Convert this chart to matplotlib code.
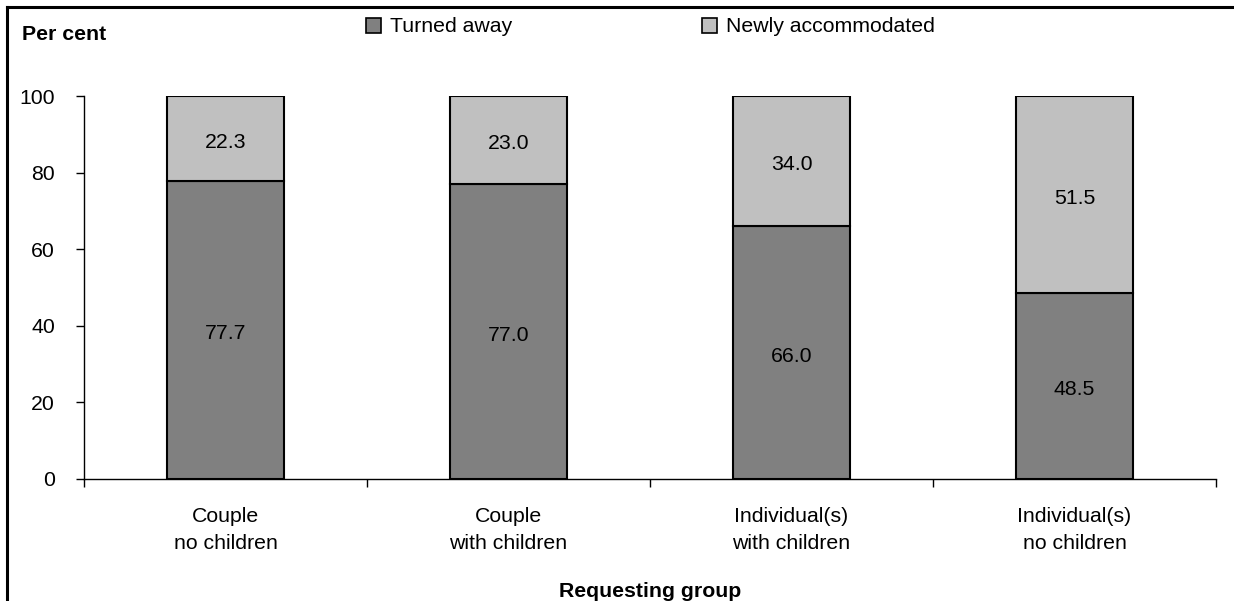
import matplotlib
matplotlib.use("Agg")
import matplotlib.pyplot as plt
from matplotlib.patches import Patch
from matplotlib.lines import Line2D
import numpy as np

groups = ["Couple\nno children", "Couple\nwith children",
          "Individual(s)\nwith children", "Individual(s)\nno children"]
turned_away = [77.7, 77.0, 66.0, 48.5]
newly_accommodated = [22.3, 23.0, 34.0, 51.5]
yticks = [0, 20, 40, 60, 80, 100]

dark = "#808080"
light = "#C0C0C0"

plt.rcParams["font.family"] = ["Liberation Sans", "DejaVu Sans"]
plt.rcParams["font.size"] = 15.3

W, H = 1234, 601
fig = plt.figure(figsize=(W / 100, H / 100), dpi=100)
# axes box in pixels: x 84..1216, y 96..479
ax = fig.add_axes([84 / W, 1 - 479 / H, (1216 - 84) / W, (479 - 96) / H])

x = np.arange(len(groups))
width = 0.41
ax.bar(x, turned_away, width, color=dark, edgecolor="black", linewidth=1.5)
ax.bar(x, newly_accommodated, width, bottom=turned_away, color=light,
       edgecolor="black", linewidth=1.5)

for i in range(len(groups)):
    ax.annotate(f"{turned_away[i]:.1f}", (x[i], turned_away[i] / 2),
                xytext=(0, -2.5), textcoords="offset points", ha="center", va="center")
    ax.annotate(f"{newly_accommodated[i]:.1f}",
                (x[i], turned_away[i] + newly_accommodated[i] / 2),
                xytext=(0, -2.5), textcoords="offset points", ha="center", va="center")

ax.set_xlim(-0.5, len(groups) - 0.5)
ax.set_ylim(0, 100)
ax.set_yticks(yticks)
ax.spines["top"].set_visible(False)
ax.spines["right"].set_visible(False)
ax.spines["left"].set_linewidth(1)
ax.spines["bottom"].set_linewidth(1)
ax.tick_params(axis="y", direction="out", length=6, width=1, pad=15)

# boundary ticks below the axis, labels at the category centres
ax.set_xticks(np.arange(-0.5, len(groups), 1.0))
ax.set_xticklabels([])
ax.tick_params(axis="x", which="major", direction="out", length=6, width=1)
ax.set_xticks(x, minor=True)
ax.set_xticklabels(groups, minor=True, linespacing=1.55)
ax.tick_params(axis="x", which="minor", length=0, pad=20)

ax.set_xlabel("Requesting group", fontweight="bold", labelpad=21)
fig.text(22 / W, 1 - 34 / H, "Per cent", fontweight="bold", ha="left", va="center")

handles = [Patch(facecolor=dark, edgecolor="black", linewidth=1.2),
           Patch(facecolor=light, edgecolor="black", linewidth=1.2)]
fig.legend(handles, ["Turned away", "Newly accommodated"], ncol=2,
           loc="center left", bbox_to_anchor=(366 / W, 1 - 27 / H),
           frameon=False, handlelength=0.7, handleheight=0.7,
           handletextpad=0.45, columnspacing=8.9, borderpad=0, borderaxespad=0)

# outer frame lines (top and left)
fig.add_artist(Line2D([7 / W, 1], [1 - 7 / H, 1 - 7 / H], color="black", linewidth=2.2,
                      transform=fig.transFigure))
fig.add_artist(Line2D([7 / W, 7 / W], [0, 1 - 7 / H], color="black", linewidth=2.2,
                      transform=fig.transFigure))

fig.savefig("out.png", dpi=100)
